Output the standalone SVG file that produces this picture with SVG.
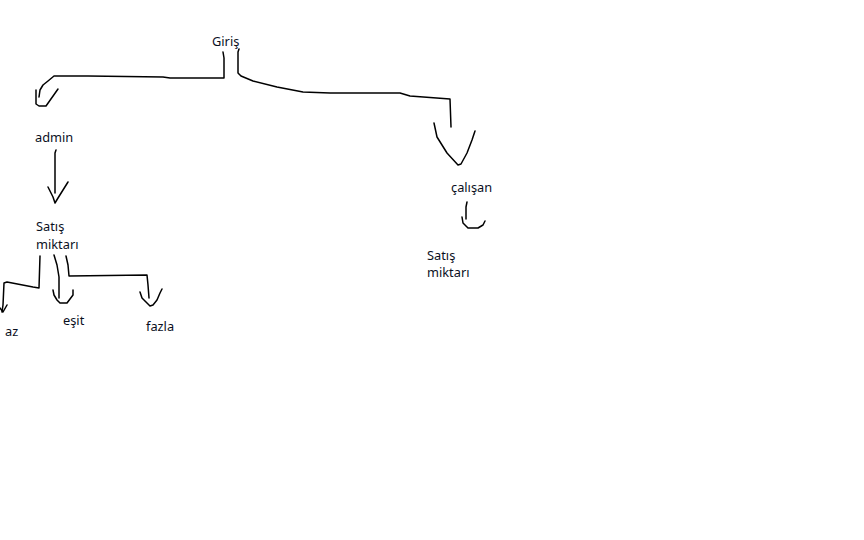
<svg xmlns="http://www.w3.org/2000/svg" width="864" height="540" viewBox="0 0 864 540">
<style>
text{font-family:"Noto Sans","Open Sans","Liberation Sans",sans-serif;font-size:12.8px;fill:#0a0f1e}
.c path{fill:none;stroke:#000;stroke-width:1.5;stroke-linejoin:round;stroke-linecap:round}
</style>
<rect width="864" height="540" fill="#fff"/>
<g id="giris"><text x="212" y="46">Giriş</text></g>
<g id="admin"><text x="35" y="142">admin</text></g>
<g id="satis1"><text x="36" y="231">Satış</text><text x="36" y="249">miktarı</text></g>
<g id="az"><text x="5" y="336">az</text></g>
<g id="esit"><text x="63" y="325">eşit</text></g>
<g id="fazla"><text x="146" y="331">fazla</text></g>
<g id="calisan"><text x="451" y="192">çalışan</text></g>
<g id="satis2"><text x="427" y="260">Satış</text><text x="427" y="277">miktarı</text></g>
<g class="c" id="connectors">
<path d="M223,52 L224,58 L224,78 L170,78 L163,77 L88,76 L54,76 L48,81 L43,85 L40,90 L39,97"/>
<path d="M36,90 L36,104 L39,106 L46,106 L58,89"/>
<path d="M239,49 L238,52 L238,73 L241,76 L253,81 L277,87 L303,92 L330,93 L400,93 L410,96 L450,99 L451,127"/>
<path d="M434,123 L437,137 L447,153 L458,165 L461,164 L467,153 L472,140 L475,131"/>
<path d="M56,150 L55,153 L55,193"/>
<path d="M48,187 L53,197 L55,203 L58,198 L68,182"/>
<path d="M467,202 L466,207 L466,219"/>
<path d="M462,217 L463,223 L468,228 L478,228 L483,225 L485,221"/>
<path d="M40,256 L39,288 L33,287 L7,282 L4,283 L3,305 L2,312"/>
<path d="M0,308 L3,312 L7,305"/>
<path d="M54,255 L57,265 L59,277 L59,298"/>
<path d="M53,290 L54,295 L57,300 L60,303 L67,303 L70,299 L73,295 L73,290"/>
<path d="M66,256 L68,265 L69,276 L147,275 L148,285 L149,298"/>
<path d="M140,292 L142,298 L147,303 L150,306 L153,305 L157,300 L160,293 L162,289"/>
</g>
</svg>
